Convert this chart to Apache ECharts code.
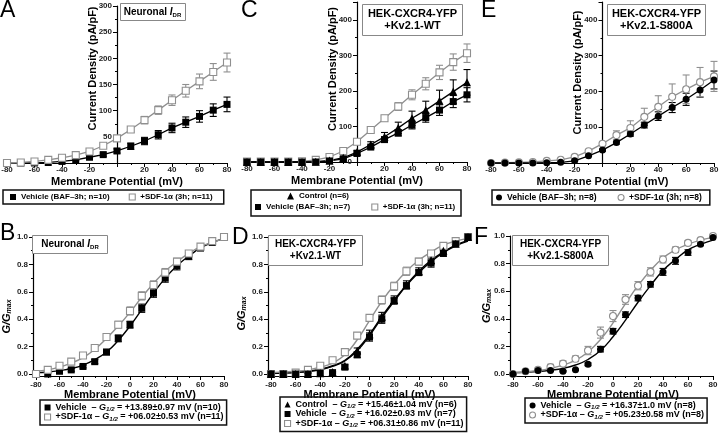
<!DOCTYPE html>
<html><head><meta charset="utf-8">
<script src="https://cdn.jsdelivr.net/npm/echarts@6/dist/echarts.min.js"></script>
<style>html,body{margin:0;padding:0;background:#fff}#c{width:720px;height:439px}</style>
</head><body><div id="c"></div>
<script>
// ---------- DATA ----------
const volts = [-80,-70,-60,-50,-40,-30,-20,-10,0,10,20,30,40,50,60,70,80];
// Panel A: neuronal IDR current density (pA/pF)
const aVeh    = [0,0,0,1,3,6,11,16,23,32,42,54,67,78,89,101,112];
const aVehErr = [0,0,0,0,1,1,2,3,4,6,7,8,9,10,11,12,14];
const aSdf    = [0,1,3,6,10,15,22,33,47,64,82,101,120,138,156,174,192];
const aSdfErr = [0,0,0,0,1,1,2,3,4,5,7,8,10,12,14,16,18];
// Panel C: HEK Kv2.1-WT current density
const cCtl    = [0,0,0,0,0,1,4,12,28,49,71,96,123,146,172,198,224];
const cCtlErr = [0,0,0,0,0,0,1,3,5,8,12,16,20,25,30,33,36];
const cVeh    = [0,0,0,0,0,0,3,9,24,42,63,82,104,125,146,170,189];
const cVehErr = [0,0,0,0,0,0,1,2,4,5,7,9,11,13,15,17,20];
const cSdf    = [1,1,1,1,2,6,14,31,57,90,123,156,189,220,252,281,306];
const cSdfErr = [0,0,0,0,0,1,2,3,5,6,8,11,14,17,20,23,26];
// Panel E: HEK Kv2.1-S800A current density
const eVeh    = [0,0,0,0,1,2,6,20,36,57,81,106,131,155,178,204,232];
const eVehErr = [0,0,0,0,0,1,1,2,3,4,6,8,12,14,17,20,25];
const eSdf    = [0,1,2,3,6,9,17,33,54,78,98,129,157,185,206,226,242];
const eSdfErr = [0,0,0,0,1,1,2,3,5,12,20,24,31,36,40,41,42];
// Panel B: neuronal G/Gmax
const bVeh    = [0,0,0.02,0.03,0.055,0.09,0.16,0.26,0.36,0.48,0.59,0.70,0.79,0.86,0.92,0.96,1.0];
const bVehErr = [0,0,0.005,0.01,0.01,0.015,0.02,0.025,0.025,0.03,0.03,0.03,0.03,0.025,0.02,0.01,0];
const bSdf    = [0,0.03,0.06,0.09,0.135,0.19,0.27,0.36,0.46,0.57,0.65,0.74,0.82,0.88,0.93,0.97,1.0];
const bSdfErr = [0,0.005,0.01,0.01,0.015,0.02,0.02,0.025,0.03,0.03,0.03,0.03,0.025,0.02,0.015,0.01,0];
const bVehFit = [0.01,0.015,0.025,0.04,0.065,0.105,0.16,0.245,0.35,0.47,0.59,0.70,0.79,0.86,0.92,0.96,0.99];
const bSdfFit = [0.02,0.03,0.05,0.08,0.12,0.18,0.26,0.35,0.45,0.56,0.66,0.75,0.82,0.88,0.93,0.96,0.99];
// Panel D: HEK Kv2.1-WT G/Gmax
const dCtl    = [0,0,0,0,0.005,0.015,0.06,0.17,0.29,0.42,0.54,0.65,0.75,0.83,0.90,0.95,1.0];
const dCtlErr = [0,0,0,0,0,0.005,0.01,0.02,0.03,0.03,0.03,0.03,0.025,0.025,0.02,0.01,0];
const dVeh    = [0,0,0,0,0.005,0.01,0.05,0.14,0.27,0.40,0.535,0.645,0.74,0.81,0.88,0.95,1.0];
const dVehErr = [0,0,0,0,0,0.005,0.01,0.02,0.03,0.03,0.02,0.02,0.02,0.03,0.02,0.01,0];
const dSdf    = [0,0,0.01,0.03,0.06,0.10,0.16,0.28,0.41,0.54,0.64,0.75,0.82,0.88,0.935,0.97,1.0];
const dSdfErr = [0,0,0.005,0.005,0.01,0.01,0.015,0.02,0.02,0.03,0.03,0.03,0.025,0.015,0.01,0.005,0];
const dCtlFit = [0.005,0.008,0.012,0.02,0.035,0.06,0.10,0.18,0.29,0.42,0.54,0.65,0.75,0.83,0.89,0.94,0.975];
const dVehFit = [0.004,0.007,0.011,0.018,0.03,0.055,0.095,0.17,0.28,0.41,0.53,0.645,0.74,0.82,0.885,0.935,0.97];
const dSdfFit = [0.01,0.015,0.02,0.03,0.05,0.08,0.14,0.25,0.39,0.53,0.65,0.75,0.83,0.89,0.94,0.97,0.99];
// Panel F: HEK Kv2.1-S800A G/Gmax
const fVeh    = [0,0.02,0.025,0.025,0.02,0.03,0.07,0.18,0.31,0.43,0.55,0.65,0.74,0.82,0.88,0.94,0.99];
const fVehErr = [0,0,0.005,0.005,0.005,0.005,0.01,0.02,0.02,0.02,0.02,0.02,0.025,0.025,0.02,0.01,0];
const fSdf    = [0,0.02,0.03,0.05,0.075,0.11,0.17,0.30,0.42,0.54,0.64,0.74,0.83,0.90,0.95,0.97,1.0];
const fSdfErr = [0,0.005,0.01,0.02,0.02,0.02,0.03,0.04,0.04,0.035,0.03,0.03,0.025,0.02,0.015,0.01,0];
const fVehFit = [0.01,0.013,0.018,0.027,0.04,0.065,0.105,0.17,0.27,0.39,0.52,0.64,0.75,0.83,0.90,0.94,0.97];
const fSdfFit = [0.01,0.015,0.025,0.04,0.065,0.10,0.16,0.25,0.37,0.51,0.64,0.75,0.84,0.90,0.94,0.97,0.99];

// legend texts
const labels = {
  aVeh: 'Vehicle (BAF\u20133h; n=10)', aSdf: '+SDF-1\u03b1 (3h; n=11)',
  cCtl: 'Control (n=6)', cVeh: 'Vehicle (BAF\u20133h; n=7)', cSdf: '+SDF-1\u03b1 (3h; n=11)',
  eVeh: 'Vehicle (BAF\u20133h; n=8)', eSdf: '+SDF-1\u03b1 (3h; n=8)',
  bVeh: ['Vehicle  \u2013 ', ' = +13.89\u00b10.97 mV (n=10)'],
  bSdf: ['+SDF-1\u03b1 \u2013 ', ' = +06.02\u00b10.53 mV (n=11)'],
  dCtl: ['Control  \u2013 ', ' = +15.46\u00b11.04 mV (n=6)'],
  dVeh: ['Vehicle  \u2013 ', ' = +16.02\u00b10.93 mV (n=7)'],
  dSdf: ['+SDF-1\u03b1 \u2013 ', ' = +06.31\u00b10.86 mV (n=11)'],
  fVeh: ['Vehicle  \u2013 ', ' = +16.37\u00b11.0 mV (n=8)'],
  fSdf: ['+SDF-1\u03b1 \u2013 ', ' = +05.23\u00b10.58 mV (n=8)']
};

// ---------- STYLE ----------
const FONT = '"Liberation Sans", Arial, Helvetica, sans-serif';
const BLK = '#000', GRY = '#8f8f8f';
const pts = vals => volts.map((v, i) => [v, vals[i]]);

function errBars(ax, vals, errs, color) {
  return {
    type: 'custom', xAxisIndex: ax, yAxisIndex: ax, z: 1, silent: true, animation: false,
    encode: {x: 0, y: 1},
    data: volts.map((v, i) => [v, vals[i], errs[i]]).filter(d => d[2] > 0),
    renderItem: function (params, api) {
      const x = api.value(0), y = api.value(1), e = api.value(2);
      const hi = api.coord([x, y + e]), lo = api.coord([x, y - e]);
      const st = {stroke: color, lineWidth: 1.1};
      return {type: 'group', children: [
        {type: 'line', shape: {x1: hi[0], y1: hi[1], x2: lo[0], y2: lo[1]}, style: st},
        {type: 'line', shape: {x1: hi[0] - 3.5, y1: hi[1], x2: hi[0] + 3.5, y2: hi[1]}, style: st},
        {type: 'line', shape: {x1: lo[0] - 3.5, y1: lo[1], x2: lo[0] + 3.5, y2: lo[1]}, style: st}
      ]};
    }
  };
}
function ivLine(name, ax, vals, sym, size, fill, stroke) {
  return {name, type: 'line', xAxisIndex: ax, yAxisIndex: ax, data: pts(vals),
    symbol: sym, symbolSize: size, showSymbol: true, showAllSymbol: true, clip: false, z: 3, animation: false,
    lineStyle: {color: stroke, width: 1.3},
    itemStyle: {color: fill, borderColor: stroke, borderWidth: fill === '#fff' ? 1.1 : 0},
    emphasis: {disabled: true}};
}
function dots(name, ax, vals, sym, size, fill, stroke) {
  return {name, type: 'scatter', xAxisIndex: ax, yAxisIndex: ax, data: pts(vals),
    symbol: sym, symbolSize: size, clip: false, z: 4, animation: false,
    itemStyle: {color: fill, borderColor: stroke, borderWidth: fill === '#fff' ? 1.1 : 0, opacity: 1},
    emphasis: {disabled: true}};
}
function fit(ax, vals, color) {
  return {type: 'line', xAxisIndex: ax, yAxisIndex: ax, data: pts(vals), smooth: true,
    showSymbol: false, symbol: 'none', z: 2, animation: false, clip: false,
    lineStyle: {color, width: 1.4}, emphasis: {disabled: true}};
}

const axLine = {lineStyle: {color: BLK, width: 1.2}};
const tick = {show: true, inside: false, length: 4, lineStyle: {color: BLK, width: 1}};
const minor = {show: true, splitNumber: 2, length: 2, lineStyle: {color: BLK, width: 1}};
const lbl = {fontSize: 8, fontWeight: 'bold', fontFamily: FONT, color: '#222'};
const nameStyle = {fontSize: 11, fontWeight: 'bold', fontFamily: FONT, color: '#000'};

function xTop(g) {
  return {gridIndex: g, type: 'value', min: -80, max: 80, interval: 20,
    axisLine: Object.assign({onZero: false}, axLine), axisTick: tick, minorTick: minor,
    splitLine: {show: false},
    axisLabel: Object.assign({margin: 3, formatter: v => v === 0 ? '' : String(v)}, lbl),
    name: 'Membrane Potential (mV)', nameLocation: 'middle', nameGap: 13, nameMoveOverlap: false,
    nameTextStyle: nameStyle};
}
// y axis of the top row sits at 0 mV: shift it inward by the pixel distance from -80 to 0
function yTop(g, max, interval, showZero, padUp, shift) {
  return {gridIndex: g, type: 'value', min: 0, max, interval, offset: -shift,
    axisLine: Object.assign({onZero: false}, axLine), axisTick: tick, minorTick: minor,
    splitLine: {show: false},
    axisLabel: Object.assign({margin: 5, formatter: v => (v === 0 && !showZero) || v % interval !== 0 ? '' : String(v)}, lbl),
    name: 'Current Density (pA/pF)', nameLocation: 'middle', nameGap: 19, nameMoveOverlap: false,
    nameTextStyle: Object.assign({padding: [0, 0, 0, padUp]}, nameStyle)};
}
function xBot(g) {
  return {gridIndex: g, type: 'value', min: -80, max: 80, interval: 20, offset: 2,
    axisLine: Object.assign({onZero: false}, axLine), axisTick: tick, minorTick: minor,
    splitLine: {show: false},
    axisLabel: Object.assign({margin: 5}, lbl),
    name: 'Membrane Potential (mV)', nameLocation: 'middle', nameGap: 13, nameMoveOverlap: false,
    nameTextStyle: nameStyle};
}
function yBot(g, padDown, gap) {
  return {gridIndex: g, type: 'value', min: 0, max: 1, interval: 0.2, offset: 3,
    axisLine: Object.assign({onZero: false}, axLine), axisTick: tick, minorTick: minor,
    splitLine: {show: false},
    axisLabel: Object.assign({margin: 5, formatter: v => v.toFixed(1)}, lbl),
    name: '{g|G/G}{s|max}', nameLocation: 'middle', nameGap: gap, nameMoveOverlap: false,
    nameTextStyle: Object.assign({padding: [0, padDown, 0, 0],
      rich: {g: {fontSize: 11, fontWeight: 'bold', fontStyle: 'italic', fontFamily: FONT, color: '#000', lineHeight: 13},
             s: {fontSize: 7, fontWeight: 'bold', fontStyle: 'italic', fontFamily: FONT, color: '#000', lineHeight: 7, verticalAlign: 'bottom'}}}, nameStyle)};
}

function richFor(fs) {
  return {
    b: {fontSize: fs, fontWeight: 'bold', fontFamily: FONT, color: '#000', lineHeight: 10},
    i: {fontSize: fs, fontWeight: 'bold', fontStyle: 'italic', fontFamily: FONT, color: '#000', lineHeight: 10},
    s: {fontSize: fs * 0.68, fontWeight: 'bold', fontStyle: 'italic', fontFamily: FONT, color: '#000', lineHeight: 6, verticalAlign: 'bottom'}
  };
}
function legFmt(name) {
  const l = labels[name];
  if (Array.isArray(l)) return '{b|' + l[0] + '}{i|G}{s|1/2}{b|' + l[1] + '}';
  return '{b|' + l + '}';
}
const icoFill = c => ({color: c, borderWidth: 0});
const icoOpen = {color: '#fff', borderColor: GRY, borderWidth: 1.1};
function legend(items, pos, fs, extra) {
  return Object.assign({
    data: items, selectedMode: false, itemWidth: 6, itemHeight: 6, itemTextGap: 5,
    formatter: legFmt, textStyle: {fontSize: fs, fontWeight: 'bold', fontFamily: FONT, color: '#000', rich: richFor(fs)},
    borderColor: '#111', borderWidth: 0, backgroundColor: 'transparent'
  }, pos, extra || {});
}
const G = (l, r, t, b) => ({left: l, right: r, top: t, bottom: b, containLabel: false, outerBoundsMode: 'none'});

// ---------- OPTION ----------
const option = {
  backgroundColor: '#fff',
  animation: false,
  grid: [
    G(7, 493, 6, 276),      // A
    G(247, 253, 2, 277),    // C
    G(491, 6, 2, 276),      // E
    G(36, 496, 237, 65),    // B
    G(271, 252, 237, 65),   // D
    G(513, 7, 236, 65)      // F
  ],
  xAxis: [xTop(0), xTop(1), xTop(2), xBot(3), xBot(4), xBot(5)],
  yAxis: [yTop(0, 300, 50, false, 32, 110), yTop(1, 450, 100, true, 26, 110), yTop(2, 450, 100, false, 20, 111.5),
          yBot(3, 22, 20), yBot(4, 16, 20), yBot(5, 2, 17)],
  legend: [
    legend([{name: 'aVeh', icon: 'rect', itemStyle: icoFill(BLK)}, {name: 'aSdf', icon: 'rect', itemStyle: icoOpen}],
      {left: 3, top: 190, padding: [3, 11, 3, 7], itemGap: 19, itemTextGap: 6}, 8, {borderWidth: 1.5}),
    legend([{name: 'cCtl', icon: 'triangle', itemStyle: icoFill(BLK)}],
      {left: 287, top: 190, padding: [2, 2, 1, 0], itemWidth: 7, itemHeight: 7}, 8),
    legend([{name: 'cVeh', icon: 'rect', itemStyle: icoFill(BLK)}, {name: 'cSdf', icon: 'rect', itemStyle: icoOpen}],
      {left: 252, top: 202, padding: [1, 2, 2, 3], itemGap: 21, itemTextGap: 6}, 8),
    legend([{name: 'eVeh', icon: 'circle', itemStyle: icoFill(BLK)}, {name: 'eSdf', icon: 'circle', itemStyle: icoOpen}],
      {left: 492, top: 190, padding: [3, 8, 3, 4], itemGap: 21, itemTextGap: 6}, 8.5, {borderWidth: 1.5}),
    legend([{name: 'bVeh', icon: 'rect', itemStyle: icoFill(BLK)}, {name: 'bSdf', icon: 'rect', itemStyle: icoOpen}],
      {left: 40, top: 400, orient: 'vertical', padding: [3, 3, 3, 4], itemGap: 0, itemTextGap: 4}, 9, {borderWidth: 1.5}),
    legend([{name: 'dCtl', icon: 'triangle', itemStyle: icoFill(BLK)}, {name: 'dVeh', icon: 'rect', itemStyle: icoFill(BLK)},
            {name: 'dSdf', icon: 'rect', itemStyle: icoOpen}],
      {left: 280, top: 397, orient: 'vertical', padding: [3, 3, 3, 4], itemGap: 0, itemTextGap: 4}, 9, {borderWidth: 1.5}),
    legend([{name: 'fVeh', icon: 'circle', itemStyle: icoFill(BLK)}, {name: 'fSdf', icon: 'circle', itemStyle: icoOpen}],
      {left: 525, top: 398, orient: 'vertical', padding: [3, 3, 3, 4], itemGap: 0, itemTextGap: 4}, 9, {borderWidth: 1.5})
  ],
  graphic: [
    // panel letters
    {type: 'text', x: 0, y: -1, style: {text: 'A', fontSize: 23, fontFamily: FONT, fill: '#000', verticalAlign: 'top'}},
    {type: 'text', x: 241, y: -1, style: {text: 'C', fontSize: 23, fontFamily: FONT, fill: '#000', verticalAlign: 'top'}},
    {type: 'text', x: 481, y: -1, style: {text: 'E', fontSize: 23, fontFamily: FONT, fill: '#000', verticalAlign: 'top'}},
    {type: 'text', x: 0, y: 222, style: {text: 'B', fontSize: 23, fontFamily: FONT, fill: '#000', verticalAlign: 'top'}},
    {type: 'text', x: 232, y: 226, style: {text: 'D', fontSize: 23, fontFamily: FONT, fill: '#000', verticalAlign: 'top'}},
    {type: 'text', x: 474, y: 226, style: {text: 'F', fontSize: 23, fontFamily: FONT, fill: '#000', verticalAlign: 'top'}},
    // C legend frame
    {type: 'rect', shape: {x: 251, y: 190, width: 210, height: 26}, style: {fill: 'none', stroke: '#111', lineWidth: 1.5}, z: 50},
    // title boxes
    {type: 'rect', shape: {x: 120.5, y: 3.5, width: 65, height: 17}, style: {fill: '#fff', stroke: '#888', lineWidth: 1}, z: 50},
    {type: 'text', x: 152.5, y: 12, z: 51, style: {text: '{n|Neuronal }{i|I}{s|DR}', align: 'center', verticalAlign: 'middle',
      rich: {n: {fontSize: 10, fontWeight: 'bold', fontFamily: FONT, fill: '#000', lineHeight: 12},
             i: {fontSize: 10, fontWeight: 'bold', fontStyle: 'italic', fontFamily: FONT, fill: '#000', lineHeight: 12},
             s: {fontSize: 6, fontWeight: 'bold', fontFamily: FONT, fill: '#000', lineHeight: 6, verticalAlign: 'bottom'}}}},
    {type: 'rect', shape: {x: 362.5, y: 4.5, width: 100, height: 31}, style: {fill: '#fff', stroke: '#888', lineWidth: 1}, z: 50},
    {type: 'text', x: 412.5, y: 20, z: 51, style: {text: 'HEK-CXCR4-YFP\n+Kv2.1-WT', align: 'center', verticalAlign: 'middle',
      fontSize: 11, fontWeight: 'bold', fontFamily: FONT, fill: '#000', lineHeight: 12}},
    {type: 'rect', shape: {x: 607.5, y: 4.5, width: 98, height: 31}, style: {fill: '#fff', stroke: '#888', lineWidth: 1}, z: 50},
    {type: 'text', x: 656.5, y: 20, z: 51, style: {text: 'HEK-CXCR4-YFP\n+Kv2.1-S800A', align: 'center', verticalAlign: 'middle',
      fontSize: 11, fontWeight: 'bold', fontFamily: FONT, fill: '#000', lineHeight: 12}},
    {type: 'rect', shape: {x: 32.5, y: 235.5, width: 75, height: 18}, style: {fill: '#fff', stroke: '#888', lineWidth: 1}, z: 50},
    {type: 'text', x: 70, y: 244.5, z: 51, style: {text: '{n|Neuronal }{i|I}{s|DR}', align: 'center', verticalAlign: 'middle',
      rich: {n: {fontSize: 10, fontWeight: 'bold', fontFamily: FONT, fill: '#000', lineHeight: 12},
             i: {fontSize: 10, fontWeight: 'bold', fontStyle: 'italic', fontFamily: FONT, fill: '#000', lineHeight: 12},
             s: {fontSize: 6, fontWeight: 'bold', fontFamily: FONT, fill: '#000', lineHeight: 6, verticalAlign: 'bottom'}}}},
    {type: 'rect', shape: {x: 268.5, y: 235.5, width: 94, height: 30}, style: {fill: '#fff', stroke: '#888', lineWidth: 1}, z: 50},
    {type: 'text', x: 315.5, y: 250.5, z: 51, style: {text: 'HEK-CXCR4-YFP\n+Kv2.1-WT', align: 'center', verticalAlign: 'middle',
      fontSize: 10, fontWeight: 'bold', fontFamily: FONT, fill: '#000', lineHeight: 12}},
    {type: 'rect', shape: {x: 512.5, y: 235.5, width: 96, height: 30}, style: {fill: '#fff', stroke: '#888', lineWidth: 1}, z: 50},
    {type: 'text', x: 560.5, y: 250.5, z: 51, style: {text: 'HEK-CXCR4-YFP\n+Kv2.1-S800A', align: 'center', verticalAlign: 'middle',
      fontSize: 10, fontWeight: 'bold', fontFamily: FONT, fill: '#000', lineHeight: 12}}
  ],
  series: [
    // A
    errBars(0, aVeh, aVehErr, BLK), errBars(0, aSdf, aSdfErr, GRY),
    ivLine('aVeh', 0, aVeh, 'rect', 7, BLK, BLK), ivLine('aSdf', 0, aSdf, 'rect', 7, '#fff', GRY),
    // C
    errBars(1, cCtl, cCtlErr, BLK), errBars(1, cVeh, cVehErr, BLK), errBars(1, cSdf, cSdfErr, GRY),
    ivLine('cSdf', 1, cSdf, 'rect', 7, '#fff', GRY),
    ivLine('cCtl', 1, cCtl, 'triangle', 8, BLK, BLK), ivLine('cVeh', 1, cVeh, 'rect', 7, BLK, BLK),
    // E
    errBars(2, eVeh, eVehErr, BLK), errBars(2, eSdf, eSdfErr, GRY),
    ivLine('eSdf', 2, eSdf, 'circle', 7, '#fff', GRY), ivLine('eVeh', 2, eVeh, 'circle', 7, BLK, BLK),
    // B
    fit(3, bVehFit, BLK), fit(3, bSdfFit, GRY),
    errBars(3, bVeh, bVehErr, BLK), errBars(3, bSdf, bSdfErr, GRY),
    dots('bVeh', 3, bVeh, 'rect', 7, BLK, BLK), dots('bSdf', 3, bSdf, 'rect', 7, '#fff', GRY),
    // D
    fit(4, dCtlFit, BLK), fit(4, dVehFit, BLK), fit(4, dSdfFit, GRY),
    errBars(4, dCtl, dCtlErr, BLK), errBars(4, dVeh, dVehErr, BLK), errBars(4, dSdf, dSdfErr, GRY),
    dots('dSdf', 4, dSdf, 'rect', 7, '#fff', GRY),
    dots('dCtl', 4, dCtl, 'triangle', 8, BLK, BLK), dots('dVeh', 4, dVeh, 'rect', 7, BLK, BLK),
    // F
    fit(5, fVehFit, BLK), fit(5, fSdfFit, GRY),
    errBars(5, fVeh, fVehErr, BLK), errBars(5, fSdf, fSdfErr, GRY),
    dots('fSdf', 5, fSdf, 'circle', 7, '#fff', GRY), dots('fVeh', 5, fVeh, 'circle', 7, BLK, BLK)
  ]
};
const chart = echarts.init(document.getElementById('c'), null, {renderer: 'canvas'});
chart.setOption(option);
</script></body></html>
